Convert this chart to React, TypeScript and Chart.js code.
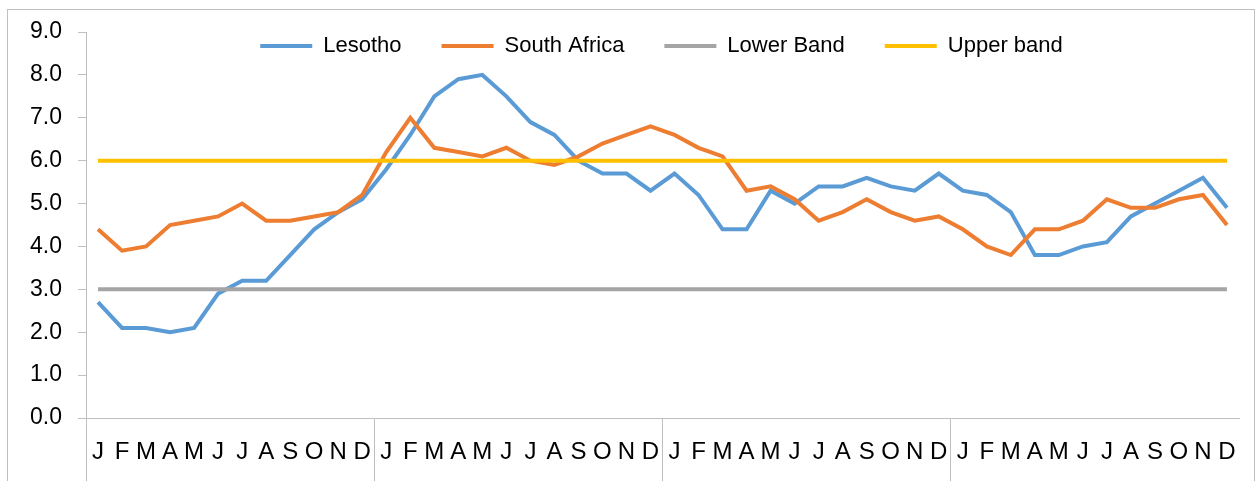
import { useEffect, useRef } from 'react';
import { Chart, registerables } from 'chart.js';

Chart.register(...registerables);

// Месяцы четырёх лет подряд, по первой букве
const months = ['J', 'F', 'M', 'A', 'M', 'J', 'J', 'A', 'S', 'O', 'N', 'D'];
const categories = [...months, ...months, ...months, ...months];

const lesotho = [
  2.7, 2.1, 2.1, 2.0, 2.1, 2.9, 3.2, 3.2, 3.8, 4.4, 4.8, 5.1,
  5.8, 6.6, 7.5, 7.9, 8.0, 7.5, 6.9, 6.6, 6.0, 5.7, 5.7, 5.3,
  5.7, 5.2, 4.4, 4.4, 5.3, 5.0, 5.4, 5.4, 5.6, 5.4, 5.3, 5.7,
  5.3, 5.2, 4.8, 3.8, 3.8, 4.0, 4.1, 4.7, 5.0, 5.3, 5.6, 4.9,
];

const southAfrica = [
  4.4, 3.9, 4.0, 4.5, 4.6, 4.7, 5.0, 4.6, 4.6, 4.7, 4.8, 5.2,
  6.2, 7.0, 6.3, 6.2, 6.1, 6.3, 6.0, 5.9, 6.1, 6.4, 6.6, 6.8,
  6.6, 6.3, 6.1, 5.3, 5.4, 5.1, 4.6, 4.8, 5.1, 4.8, 4.6, 4.7,
  4.4, 4.0, 3.8, 4.4, 4.4, 4.6, 5.1, 4.9, 4.9, 5.1, 5.2, 4.5,
];

const lowerBand = [
  3, 3, 3, 3, 3, 3, 3, 3, 3, 3, 3, 3,
  3, 3, 3, 3, 3, 3, 3, 3, 3, 3, 3, 3,
  3, 3, 3, 3, 3, 3, 3, 3, 3, 3, 3, 3,
  3, 3, 3, 3, 3, 3, 3, 3, 3, 3, 3, 3,
];

const upperBand = [
  6, 6, 6, 6, 6, 6, 6, 6, 6, 6, 6, 6,
  6, 6, 6, 6, 6, 6, 6, 6, 6, 6, 6, 6,
  6, 6, 6, 6, 6, 6, 6, 6, 6, 6, 6, 6,
  6, 6, 6, 6, 6, 6, 6, 6, 6, 6, 6, 6,
];

const FONT = "'Liberation Sans', Arial, sans-serif";
const AXIS = '#bfbfbf';

// Легенда Excel заходит в область графика: резервируем под неё 32px,
// а рамку (и клип) легенды растягиваем вниз и центрируем по области графика
const legendInside = {
  id: 'legendInside',
  afterLayout(chart: any) {
    const l = chart.legend;
    if (!l) return;
    l.top -= 5;
    l.bottom = l.top + 100;
    l.height = 100;
    l.left += 42;
    l.right += 42;
  },
};

export default function App() {
  const canvasRef = useRef<HTMLCanvasElement>(null);

  useEffect(() => {
    if (!canvasRef.current) return;

    const line = (label: string, data: number[], color: string, order: number) => ({
      label,
      data,
      borderColor: color,
      backgroundColor: color,
      borderWidth: 4,
      pointRadius: 0,
      tension: 0,
      order,
    });

    const chart = new Chart(canvasRef.current, {
      type: 'line',
      data: {
        labels: categories,
        datasets: [
          line('Lesotho', lesotho, '#5b9bd5', 4),
          line('South Africa', southAfrica, '#ed7d31', 3),
          line('Lower Band', lowerBand, '#a5a5a5', 2),
          line('Upper band', upperBand, '#ffc000', 1),
        ],
      },
      options: {
        responsive: false,
        animation: false,
        layout: { padding: { left: 0, right: 16, top: 0, bottom: 0 } },
        plugins: {
          tooltip: { enabled: false },
          legend: {
            position: 'top',
            align: 'center',
            maxHeight: 32,
            labels: {
              usePointStyle: true,
              pointStyle: 'line',
              pointStyleWidth: 52,
              padding: 40,
              color: '#000',
              font: { family: FONT, size: 22 },
              sort: (a: any, b: any) => a.datasetIndex - b.datasetIndex,
            },
          },
        },
        scales: {
          x: {
            offset: true,
            grid: {
              offset: true,
              drawOnChartArea: false,
              drawTicks: true,
              tickLength: 64,
              color: (ctx: any) => (ctx.index % 12 === 0 ? AXIS : 'rgba(0,0,0,0)'),
            },
            border: { display: true, color: AXIS },
            ticks: {
              autoSkip: false,
              maxRotation: 0,
              padding: -44,
              color: '#000',
              font: { family: FONT, size: 24 },
            },
            afterFit: (s: any) => {
              s.height = 63;
            },
          },
          y: {
            min: 0,
            max: 9,
            grid: { drawOnChartArea: false, tickLength: 8, color: AXIS },
            border: { display: true, color: AXIS },
            ticks: {
              stepSize: 1,
              padding: 16,
              color: '#000',
              font: { family: FONT, size: 23 },
              callback: (v: any) => Number(v).toFixed(1),
            },
            afterFit: (s: any) => {
              s.width = 86;
            },
          },
        },
      },
      plugins: [legendInside],
    });

    return () => chart.destroy();
  }, []);

  return (
    <div style={{ position: 'absolute', left: 0, top: 0, width: 1255, height: 481, overflow: 'hidden', background: '#fff' }}>
      <div
        style={{
          position: 'absolute',
          left: 7,
          top: 9,
          width: 1246,
          height: 480,
          borderTop: '1px solid #c0c0c0',
          borderLeft: '1px solid #c0c0c0',
          borderRight: '1px solid #c0c0c0',
        }}
      />
      <canvas ref={canvasRef} width={1255} height={481} style={{ position: 'absolute', left: 0, top: 0 }} />
    </div>
  );
}
